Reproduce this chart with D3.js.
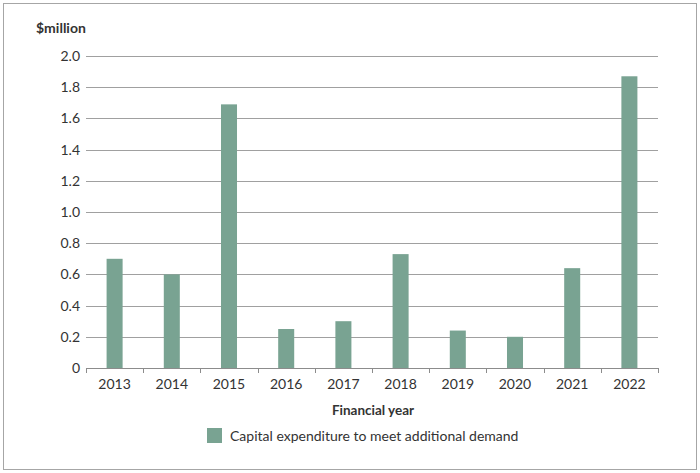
<!DOCTYPE html>
<html><head><meta charset="utf-8">
<script src="https://cdn.jsdelivr.net/npm/d3@7"></script>
<style>
body{margin:0;background:#fff;}
svg{display:block;font-family:Lato,"Open Sans",sans-serif;}
</style></head>
<body><svg id="c" width="700" height="473"></svg>
<script>
const years = ["2013","2014","2015","2016","2017","2018","2019","2020","2021","2022"];
const capex = [0.70, 0.60, 1.69, 0.25, 0.30, 0.73, 0.24, 0.20, 0.64, 1.87];
const yTicks = [0, 0.2, 0.4, 0.6, 0.8, 1.0, 1.2, 1.4, 1.6, 1.8, 2.0];
const seriesName = "Capital expenditure to meet additional demand";
const yTitle = "$million";
const xTitle = "Financial year";

(function(){
const svg = d3.select("#c");
const pL = 86, pR = 658, pT = 56, pB = 368;
const barColor = "#79a392";
const textColor = "#333";

svg.append("rect").attr("x",3.5).attr("y",3.5).attr("width",693).attr("height",466)
  .attr("fill","none").attr("stroke","#a6a6a6").attr("stroke-width",1);

const x = d3.scaleBand().domain(years).range([pL,pR]).paddingInner(0.72).paddingOuter(0.36);
const y = d3.scaleLinear().domain([0,2.0]).range([pB,pT]);

// gridlines
svg.append("g").selectAll("line").data(yTicks.filter(d=>d>0)).join("line")
  .attr("x1",pL).attr("x2",pR)
  .attr("y1",d=>Math.round(y(d))+0.5).attr("y2",d=>Math.round(y(d))+0.5)
  .attr("stroke","#a0a0a0").attr("stroke-width",1);

// y labels
svg.append("g").selectAll("text").data(yTicks).join("text")
  .attr("x",80).attr("y",d=>y(d)+5).attr("text-anchor","end")
  .attr("font-size",14).attr("fill",textColor)
  .text(d=>d===0?"0":d.toFixed(1));

// bars
svg.append("g").selectAll("rect").data(years).join("rect")
  .attr("x",d=>x(d)).attr("width",x.bandwidth())
  .attr("y",(d,i)=>y(capex[i])).attr("height",(d,i)=>pB-y(capex[i]))
  .attr("fill",barColor);

// x axis
const ax = svg.append("g");
ax.append("line").attr("x1",pL).attr("x2",pR).attr("y1",pB+0.5).attr("y2",pB+0.5)
  .attr("stroke","#8c8c8c").attr("stroke-width",1);
const step = (pR-pL)/years.length;
const bounds = d3.range(years.length+1).map(i=>pL+i*step);
ax.selectAll("line.tk").data(bounds).join("line").attr("class","tk")
  .attr("x1",d=>Math.round(d)+0.5).attr("x2",d=>Math.round(d)+0.5)
  .attr("y1",pB).attr("y2",pB+5).attr("stroke","#8c8c8c");
ax.selectAll("text").data(years).join("text")
  .attr("x",d=>x(d)+x.bandwidth()/2).attr("y",389).attr("text-anchor","middle")
  .attr("font-size",14).attr("fill",textColor).text(d=>d);

// titles
svg.append("text").attr("x",36).attr("y",33).attr("font-size",14).attr("font-weight",700)
  .attr("fill",textColor).text(yTitle);
svg.append("text").attr("x",373).attr("y",415).attr("text-anchor","middle").attr("font-size",13.5)
  .attr("font-weight",700).attr("fill",textColor).text(xTitle);

// legend
svg.append("rect").attr("x",207).attr("y",428).attr("width",15).attr("height",15).attr("fill",barColor);
svg.append("text").attr("x",230).attr("y",441).attr("font-size",14).attr("fill",textColor).text(seriesName);
})();
</script></body></html>
